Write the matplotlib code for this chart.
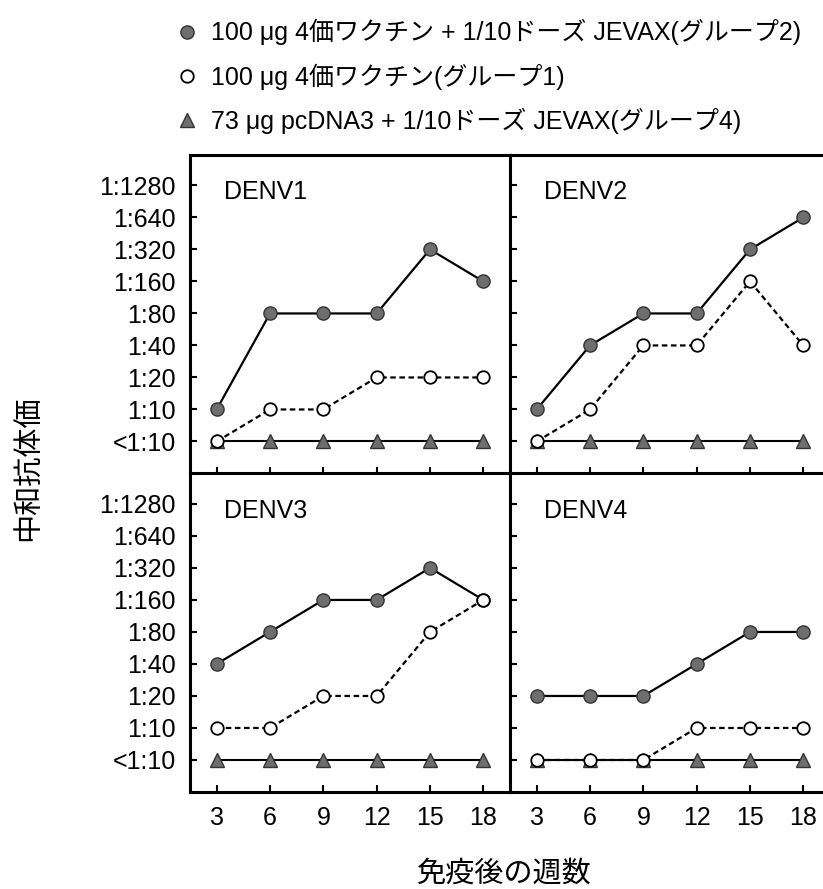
import matplotlib
matplotlib.use("Agg")
import matplotlib.pyplot as plt

plt.rcParams['font.family'] = ['Liberation Sans', 'Noto Sans CJK JP', 'DejaVu Sans']

weeks = [3, 6, 9, 12, 15, 18]
titer_labels = ['<1:10', '1:10', '1:20', '1:40', '1:80', '1:160', '1:320', '1:640', '1:1280']
panels = ['DENV1', 'DENV2', 'DENV3', 'DENV4']

group2 = {  # filled circles
    'DENV1': [1, 4, 4, 4, 6, 5],
    'DENV2': [1, 3, 4, 4, 6, 7],
    'DENV3': [3, 4, 5, 5, 6, 5],
    'DENV4': [2, 2, 2, 3, 4, 4],
}
group1 = {  # open circles
    'DENV1': [0, 1, 1, 2, 2, 2],
    'DENV2': [0, 1, 3, 3, 5, 3],
    'DENV3': [1, 1, 2, 2, 4, 5],
    'DENV4': [0, 0, 0, 1, 1, 1],
}
group4 = {  # triangles
    'DENV1': [0, 0, 0, 0, 0, 0],
    'DENV2': [0, 0, 0, 0, 0, 0],
    'DENV3': [0, 0, 0, 0, 0, 0],
    'DENV4': [0, 0, 0, 0, 0, 0],
}
legend_labels = [
    '100 μg 4価ワクチン + 1/10ドーズ JEVAX(グループ2)',
    '100 μg 4価ワクチン(グループ1)',
    '73 μg pcDNA3 + 1/10ドーズ JEVAX(グループ4)',
]

fig, axes = plt.subplots(2, 2, figsize=(8.23, 8.89), dpi=100)
fig.subplots_adjust(left=190/823, right=830/823, top=1-155/889, bottom=1-792/889,
                    wspace=0, hspace=0)

fill_col = '#6e6e6e'
handles = None
for ax, name in zip(axes.flat, panels):
    h4, = ax.plot(weeks, group4[name], '-', color='black', lw=1.5, marker='^', ms=10,
                  mfc=fill_col, mec='#333333', mew=1.0, zorder=3)
    h2, = ax.plot(weeks, group2[name], '-', color='black', lw=1.6, marker='o', ms=9.5,
                  mfc=fill_col, mec='#333333', mew=1.0, zorder=4)
    h1, = ax.plot(weeks, group1[name], '--', color='black', lw=1.6, dashes=(2.5, 1.6),
                  marker='o', ms=9, mfc='white', mec='black', mew=1.3, zorder=5)
    handles = [h2, h1, h4]
    ax.set_xlim(1.5, 19.5)
    ax.set_ylim(-1.0, 8.95)
    ax.set_xticks(weeks)
    ax.set_yticks(range(len(titer_labels)))
    ax.tick_params(direction='in', length=5, width=1.5, labelsize=18, colors='black')
    ax.tick_params(axis='x', pad=10)
    ax.tick_params(axis='y', pad=10)
    for sp in ax.spines.values():
        sp.set_linewidth(2.2)
    ax.text(0.105, 0.883, name, transform=ax.transAxes, fontsize=18, va='center', ha='left')

for ax in axes[0]:
    ax.set_xticklabels([])
for ax in axes[:, 1]:
    ax.set_yticklabels([])
for ax in axes[:, 0]:
    ax.set_yticklabels(titer_labels)
for ax in axes[1]:
    ax.set_xticklabels([str(w) for w in weeks])

fig.text(28/823, 1-468/889, '中和抗体価', rotation=90, fontsize=21, ha='center', va='center')
fig.text(504/823, 1-874/889, '免疫後の週数', fontsize=21, ha='center', va='center')

leg = fig.legend(handles, legend_labels, loc='upper left', bbox_to_anchor=(167/823, 1-9/889),
                 frameon=False, fontsize=18, handlelength=0.8, handletextpad=0.55,
                 labelspacing=0.72, borderaxespad=0)
for lh in leg.get_lines():
    lh.set_linestyle('none')

fig.savefig('out.png', dpi=100)
